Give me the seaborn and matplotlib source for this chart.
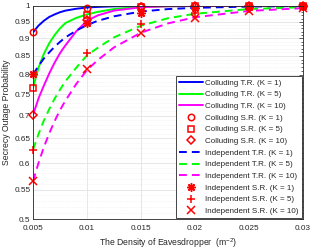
import matplotlib
matplotlib.use("Agg")
import matplotlib.pyplot as plt
import seaborn as sns
import pandas as pd
from matplotlib.ticker import FixedLocator, FixedFormatter, NullFormatter

# density of eavesdroppers (m^-2)
lam_curve = [0.005, 0.0055, 0.006, 0.0065, 0.007, 0.0075, 0.008, 0.009, 0.01,
             0.011, 0.0125, 0.015, 0.0175, 0.02, 0.025, 0.03]
lam_sim = [0.005, 0.01, 0.015, 0.02, 0.025, 0.03]

# theoretical results (T.R.)
col_tr_k1 = [0.918, 0.938, 0.953, 0.965, 0.973, 0.980, 0.985, 0.991, 0.995,
             0.997, 0.9988, 0.9997, 0.9999, 1.0, 1.0, 1.0]
col_tr_k5 = [0.767, 0.818, 0.856, 0.886, 0.910, 0.930, 0.946, 0.962, 0.973,
             0.981, 0.990, 0.997, 0.999, 0.9997, 1.0, 1.0]
col_tr_k10 = [0.702, 0.740, 0.772, 0.803, 0.832, 0.858, 0.880, 0.921, 0.953,
              0.970, 0.985, 0.996, 0.999, 0.9998, 1.0, 1.0]
ind_tr_k1 = [0.800, 0.823, 0.843, 0.860, 0.876, 0.890, 0.903, 0.923, 0.940,
             0.953, 0.967, 0.982, 0.990, 0.994, 0.998, 0.9995]
ind_tr_k5 = [0.627, 0.659, 0.689, 0.715, 0.740, 0.762, 0.783, 0.818, 0.852,
             0.873, 0.903, 0.938, 0.961, 0.975, 0.990, 0.996]
ind_tr_k10 = [0.566, 0.600, 0.632, 0.661, 0.688, 0.713, 0.735, 0.776, 0.812,
              0.839, 0.874, 0.917, 0.945, 0.964, 0.984, 0.993]

# simulation results (S.R.)
col_sr_k1 = [0.918, 0.995, 0.9995, 1.0, 1.0, 1.0]
col_sr_k5 = [0.767, 0.972, 0.998, 1.0, 1.0, 1.0]
col_sr_k10 = [0.702, 0.955, 0.996, 0.9995, 1.0, 1.0]
ind_sr_k1 = [0.802, 0.945, 0.978, 0.993, 0.997, 0.999]
ind_sr_k5 = [0.627, 0.857, 0.942, 0.976, 0.990, 0.996]
ind_sr_k10 = [0.566, 0.816, 0.916, 0.962, 0.984, 0.993]

y_ticks = [0.5, 0.55, 0.6, 0.65, 0.7, 0.75, 0.8, 0.85, 0.9, 0.95, 1.0]
y_labels = ["0.5", "0.55", "0.6", "0.65", "0.7", "0.75", "0.8", "0.85", "0.9", "0.95", "1"]
x_ticks = [0.005, 0.01, 0.015, 0.02, 0.025, 0.03]
x_labels = ["0.005", "0.01", "0.015", "0.02", "0.025", "0.03"]

sns.set_style("white")
plt.rcParams['font.family'] = ['Liberation Sans', 'DejaVu Sans']
plt.rcParams['mathtext.fontset'] = 'custom'
plt.rcParams['mathtext.rm'] = 'Liberation Sans'

fig = plt.figure(figsize=(3.12, 2.49), dpi=100)
ax = fig.add_axes([0.106, 0.12, 0.865, 0.856])

BLUE, GREEN, MAG, RED = "#0000ff", "#00ff00", "#ff00ff", "#ff0000"

curves = [
    (col_tr_k1, BLUE, "-", "Colluding T.R. (K = 1)"),
    (col_tr_k5, GREEN, "-", "Colluding T.R. (K = 5)"),
    (col_tr_k10, MAG, "-", "Colluding T.R. (K = 10)"),
    (ind_tr_k1, BLUE, "--", "Independent T.R. (K = 1)"),
    (ind_tr_k5, GREEN, "--", "Independent T.R. (K = 5)"),
    (ind_tr_k10, MAG, "--", "Independent T.R. (K = 10)"),
]
sims = [
    (col_sr_k1, "o", True, "Colluding S.R. (K = 1)"),
    (col_sr_k5, "s", True, "Colluding S.R. (K = 5)"),
    (col_sr_k10, "D", True, "Colluding S.R. (K = 10)"),
    (ind_sr_k1, (8, 2, 0), False, "Independent S.R. (K = 1)"),
    (ind_sr_k5, "+", False, "Independent S.R. (K = 5)"),
    (ind_sr_k10, "x", False, "Independent S.R. (K = 10)"),
]

handles = {}
for vals, col, ls, lab in curves:
    df = pd.DataFrame({"lam": lam_curve, "p": vals})
    sns.lineplot(data=df, x="lam", y="p", ax=ax, color=col, linestyle=ls,
                 linewidth=1.4, sort=False, estimator=None)
    handles[lab] = ax.lines[-1]
    if ls == "--":
        ax.lines[-1].set_dashes([4, 2.6])

for vals, mk, hollow, lab in sims:
    df = pd.DataFrame({"lam": lam_sim, "p": vals})
    size = 4.2 if mk == "D" else 4.6 if hollow else 6
    sns.lineplot(data=df, x="lam", y="p", ax=ax, color=RED, linestyle="",
                 marker=mk, markersize=size, markeredgewidth=1.1,
                 markerfacecolor="none" if hollow else RED,
                 markeredgecolor=RED, sort=False, estimator=None)
    ax.lines[-1].set_clip_on(False)
    handles[lab] = ax.lines[-1]

ax.set_yscale("log")
ax.set_xlim(0.005, 0.03)
ax.set_ylim(0.5, 1.0)
ax.yaxis.set_major_locator(FixedLocator(y_ticks))
ax.yaxis.set_major_formatter(FixedFormatter(y_labels))
ax.yaxis.set_minor_locator(FixedLocator([0.5 + 0.01 * i for i in range(51)]))
ax.yaxis.set_minor_formatter(NullFormatter())
ax.set_xticks(x_ticks)
ax.set_xticklabels(x_labels)

ax.grid(True, which="major", color="#e3e3e3", linewidth=0.6)
ax.grid(True, which="minor", axis="y", color="#ececec", linewidth=0.5, linestyle=":")
ax.set_axisbelow(True)
ax.tick_params(which="both", direction="in", top=True, right=True,
               labelsize=5.9, colors="#262626", width=0.5)
ax.tick_params(axis="x", pad=4)
ax.tick_params(axis="y", pad=2)
ax.tick_params(which="major", length=3)
ax.tick_params(which="minor", length=1.5)
for sp in ax.spines.values():
    sp.set_color("#262626")
    sp.set_linewidth(0.6)

ax.set_xlabel("The Density of Eavesdropper  (m$^{-2}$)", fontsize=6.2, labelpad=3, color="#262626")
ax.set_ylabel("Secrecy Outage Probability", fontsize=6.2, labelpad=2, color="#262626")

order = [c[3] for c in curves[:3]] + [s[3] for s in sims[:3]] + \
        [c[3] for c in curves[3:]] + [s[3] for s in sims[3:]]
leg = ax.legend([handles[k] for k in order], order, loc="lower right",
                fontsize=5.8, frameon=True, fancybox=False, framealpha=1,
                borderpad=0.35, labelspacing=0.5, handlelength=3.0,
                handletextpad=0.25, borderaxespad=0.15)
leg.get_frame().set_edgecolor("#262626")
leg.get_frame().set_linewidth(0.6)

fig.savefig("out.png", dpi=100)
